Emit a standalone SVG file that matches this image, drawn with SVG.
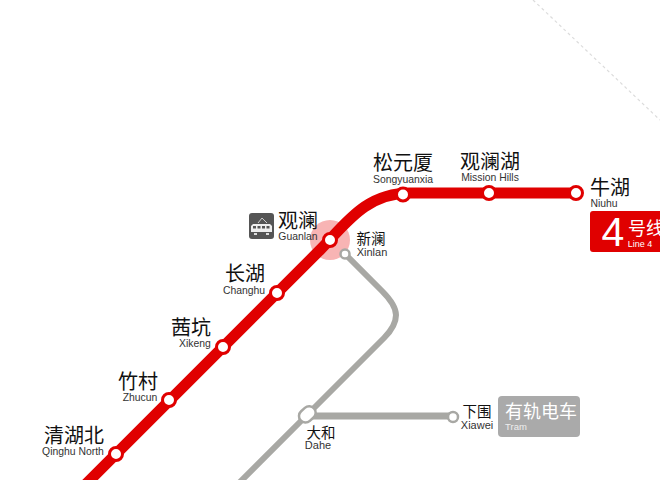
<svg xmlns="http://www.w3.org/2000/svg" width="660" height="480" viewBox="0 0 660 480">
<style>
.zh{font-family:"Noto Sans CJK SC","Liberation Sans",sans-serif;font-size:20px;fill:#111;text-anchor:middle}
.zs{font-size:14.5px}
.en{font-family:"Liberation Sans",Arial,sans-serif;font-size:10.4px;fill:#333;text-anchor:middle}
.es{font-size:11px}
.st{fill:#fff;stroke:#e00000;stroke-width:3}
.gs{fill:#fff;stroke:#a8a8a4;stroke-width:2.5}
.red{fill:none;stroke:#e00000;stroke-width:11}
.gray{fill:none;stroke:#a8a8a4;stroke-width:6}
</style>
<circle id="guanlan-halo" cx="330" cy="240" r="20" fill="#f8b4b4"/>
<g id="connectors">
<path d="M533 0L660 120" fill="none" stroke="#dcdcdc" stroke-width="1.2" stroke-dasharray="3 3"/>
<path class="red" d="M80 490L320 250C345 225 365 193 410 193L576 193"/>
<path class="gray" d="M345 254L382 291Q396 305 396 315Q396 326 384 338L307 415L238 484"/>
<path class="gray" d="M307 416L453 416" style="stroke-width:7"/>
</g>
<g id="qinghu-north"><circle class="st" cx="116" cy="454" r="6.5"/><text class="zh" x="74" y="443">清湖北</text><text class="en" x="73" y="455">Qinghu North</text></g>
<g id="zhucun"><circle class="st" cx="169" cy="400" r="6.5"/><text class="zh" x="138" y="389">竹村</text><text class="en" x="140" y="401">Zhucun</text></g>
<g id="xikeng"><circle class="st" cx="223" cy="347" r="6.5"/><text class="zh" x="191" y="335">茜坑</text><text class="en" x="195" y="347">Xikeng</text></g>
<g id="changhu"><circle class="st" cx="277" cy="293" r="6.5"/><text class="zh" x="245" y="281">长湖</text><text class="en" x="244" y="294">Changhu</text></g>
<g id="guanlan"><circle class="st" cx="330" cy="240" r="6.5"/>
<rect x="249" y="213" width="25" height="26" rx="3" fill="#555"/>
<path d="M253 224L270 224L272 226L272 232L251 232L251 226Z" fill="#eee"/>
<rect x="253" y="226" width="3" height="2.5" fill="#555"/><rect x="257.500" y="226" width="3" height="2.5" fill="#555"/><rect x="262" y="226" width="3" height="2.5" fill="#555"/><rect x="266.500" y="226" width="3" height="2.5" fill="#555"/>
<path d="M258 223L262 218L267 223" fill="none" stroke="#ccc" stroke-width="1"/>
<rect x="254" y="233" width="3" height="2" fill="#ddd"/><rect x="266" y="233" width="3" height="2" fill="#ddd"/>
<text class="zh" x="298" y="228">观澜</text><text class="en" x="298" y="240">Guanlan</text></g>
<g id="songyuanxia"><circle class="st" cx="403" cy="194.500" r="6.500"/><text class="zh" x="403" y="170">松元厦</text><text class="en" x="403" y="183">Songyuanxia</text></g>
<g id="mission-hills"><circle class="st" cx="489" cy="193" r="6.5"/><text class="zh" x="490" y="169">观澜湖</text><text class="en" x="490" y="181">Mission Hills</text></g>
<g id="niuhu"><circle class="st" cx="576" cy="193" r="6.5"/><text class="zh" x="610" y="195">牛湖</text><text class="en" x="604" y="207">Niuhu</text></g>
<g id="line4"><rect x="590" y="211" width="80" height="41" rx="3" fill="#e00000"/><text x="613" y="246" font-family="'Liberation Sans',sans-serif" font-size="41" fill="#fff" text-anchor="middle">4</text><text x="628" y="235" font-family="'Noto Sans CJK SC',sans-serif" font-size="18" fill="#fff">号线</text><text x="640" y="247" font-family="'Liberation Sans',sans-serif" font-size="9" fill="#fff" text-anchor="middle">Line 4</text></g>
<g id="xinlan"><circle class="gs" cx="345" cy="254" r="4.5"/><text class="zh zs" x="371" y="244">新澜</text><text class="en es" x="372" y="256">Xinlan</text></g>
<g id="dahe"><rect x="298" y="408" width="18" height="13" rx="6.5" transform="rotate(-42 307 414)" fill="#fff" stroke="#a8a8a4" stroke-width="2.5"/><text class="zh zs" x="321" y="438">大和</text><text class="en es" x="318" y="449">Dahe</text></g>
<g id="xiawei"><circle class="gs" cx="453" cy="417" r="5"/><text class="zh zs" x="477" y="417">下围</text><text class="en es" x="477" y="429">Xiawei</text></g>
<g id="tram"><rect x="498" y="396" width="82" height="41" rx="4" fill="#aaa"/><text x="541" y="418" font-family="'Noto Sans CJK SC',sans-serif" font-size="18" fill="#fff" text-anchor="middle">有轨电车</text><text x="516" y="430" font-family="'Liberation Sans',sans-serif" font-size="9.500" fill="#eee" text-anchor="middle">Tram</text></g>
</svg>
